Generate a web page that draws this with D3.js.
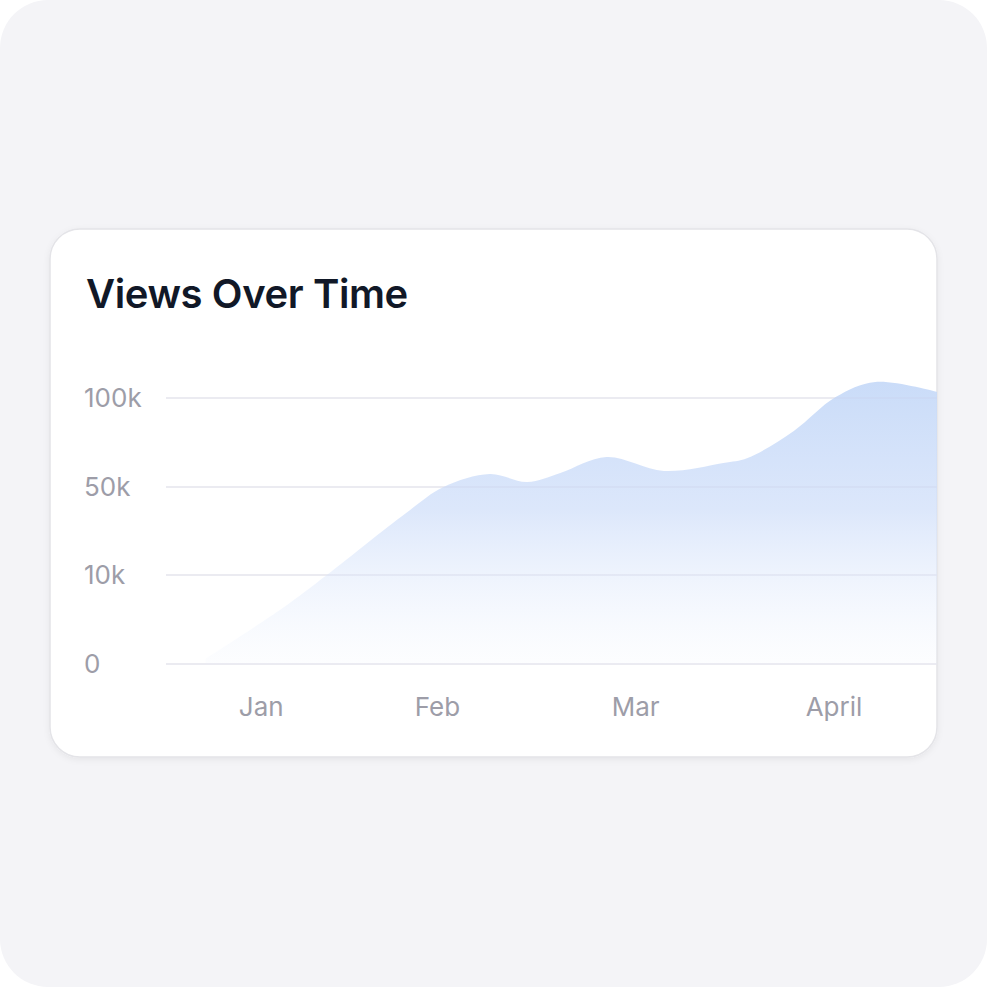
<!DOCTYPE html>
<html>
<head>
<meta charset="utf-8">
<script src="https://cdn.jsdelivr.net/npm/d3@7/dist/d3.min.js"></script>
<style>
  html, body { margin: 0; padding: 0; background: #ffffff; }
  svg { display: block; }
</style>
</head>
<body>
<svg id="chart" width="987" height="987"></svg>
<script>
// ---- data ----
const title = "Views Over Time";
const yTickValues = [0, 10000, 50000, 100000];
const yTickLabels = ["0", "10k", "50k", "100k"];
const monthLabels = ["Jan", "Feb", "Mar", "April"];
const monthPositions = [4.3, 12.3, 21.3, 30.3];
const pointX = [1.8, 5.3, 7.3, 10.9, 12.6, 14.7, 16.4, 17.9, 20.0, 22.6, 25.3, 26.4, 28.5, 30.4, 32.2, 35.0];
const views  = [600, 6300, 10000, 38200, 50000, 57300, 52800, 57900, 66800, 59000, 63500, 66300, 81500, 100500, 109000, 103400];

// ---- layout ----
const svg = d3.select("#chart");
const W = 987, H = 987;
const card = { x: 50, y: 229, w: 887, h: 528, r: 30 };
const plot = { left: 166, right: 937 };

const defs = svg.append("defs");
const shadow = defs.append("filter").attr("id", "shadow").attr("x", "-10%").attr("y", "-10%").attr("width", "120%").attr("height", "130%");
shadow.append("feDropShadow").attr("dx", 0).attr("dy", 2).attr("stdDeviation", 3).attr("flood-color", "#000").attr("flood-opacity", 0.06);

const grad = defs.append("linearGradient").attr("id", "areaGrad")
  .attr("gradientUnits", "userSpaceOnUse").attr("x1", 0).attr("x2", 0).attr("y1", 382).attr("y2", 664);
grad.append("stop").attr("offset", "0%").attr("stop-color", "#c7daf8").attr("stop-opacity", 0.95);
grad.append("stop").attr("offset", "45%").attr("stop-color", "#d3e1fa").attr("stop-opacity", 0.8);
grad.append("stop").attr("offset", "100%").attr("stop-color", "#eef3fd").attr("stop-opacity", 0.15);

const clip = defs.append("clipPath").attr("id", "cardClip");
clip.append("rect").attr("x", card.x).attr("y", card.y).attr("width", card.w).attr("height", card.h).attr("rx", card.r);

// background
svg.append("rect").attr("x", 0).attr("y", 0).attr("width", W).attr("height", H).attr("rx", 48).attr("fill", "#f4f4f7");

// card
svg.append("rect").attr("x", card.x).attr("y", card.y).attr("width", card.w).attr("height", card.h)
  .attr("rx", card.r).attr("fill", "#ffffff").attr("stroke", "#e4e4e8").attr("stroke-width", 1.5)
  .attr("filter", "url(#shadow)");

// title
svg.append("text").attr("x", 86).attr("y", 308).text(title)
  .attr("font-family", "Inter, 'Noto Sans', sans-serif").attr("font-weight", 600)
  .attr("font-size", 40).attr("fill", "#111827").attr("letter-spacing", -0.4);

// scales
const x = d3.scaleLinear().domain([0, 35]).range([plot.left, plot.right]);
const y = d3.scaleLinear().domain(yTickValues).range([664, 575, 487, 398]);

const g = svg.append("g").attr("clip-path", "url(#cardClip)");

// gridlines
g.append("g").selectAll("line").data(yTickValues).join("line")
  .attr("x1", plot.left).attr("x2", plot.right)
  .attr("y1", d => y(d)).attr("y2", d => y(d))
  .attr("stroke", "#ececf0").attr("stroke-width", 1.5);

// area
const data = pointX.map((px, i) => ({ x: px, v: views[i] }));
const area = d3.area().x(d => x(d.x)).y0(y(0)).y1(d => y(d.v)).curve(d3.curveCatmullRom.alpha(0.5));
g.append("path").datum(data).attr("d", area).attr("fill", "url(#areaGrad)");

// gridlines faintly over area
g.append("g").selectAll("line").data(yTickValues).join("line")
  .attr("x1", plot.left).attr("x2", plot.right)
  .attr("y1", d => y(d)).attr("y2", d => y(d))
  .attr("stroke", "#c9cfdc").attr("stroke-opacity", 0.18).attr("stroke-width", 1.5);

// y axis labels
const yAxis = d3.axisLeft(y).tickValues(yTickValues).tickFormat((d, i) => yTickLabels[i]).tickSize(0).tickPadding(0);
const yg = svg.append("g").attr("transform", "translate(84,0)").call(yAxis);
yg.select(".domain").remove();
yg.selectAll("text").attr("text-anchor", "start").attr("x", 0)
  .attr("font-family", "Inter, 'Noto Sans', sans-serif").attr("font-size", 26).attr("fill", "#9d9da8");

// x axis labels
const xAxis = d3.axisBottom(x).tickValues(monthPositions).tickFormat((d, i) => monthLabels[i]).tickSize(0).tickPadding(0);
const xg = svg.append("g").attr("transform", "translate(0,707)").call(xAxis);
xg.select(".domain").remove();
xg.selectAll("text").attr("dy", "0.35em")
  .attr("font-family", "Inter, 'Noto Sans', sans-serif").attr("font-size", 26).attr("fill", "#9d9da8");
</script>
</body>
</html>
